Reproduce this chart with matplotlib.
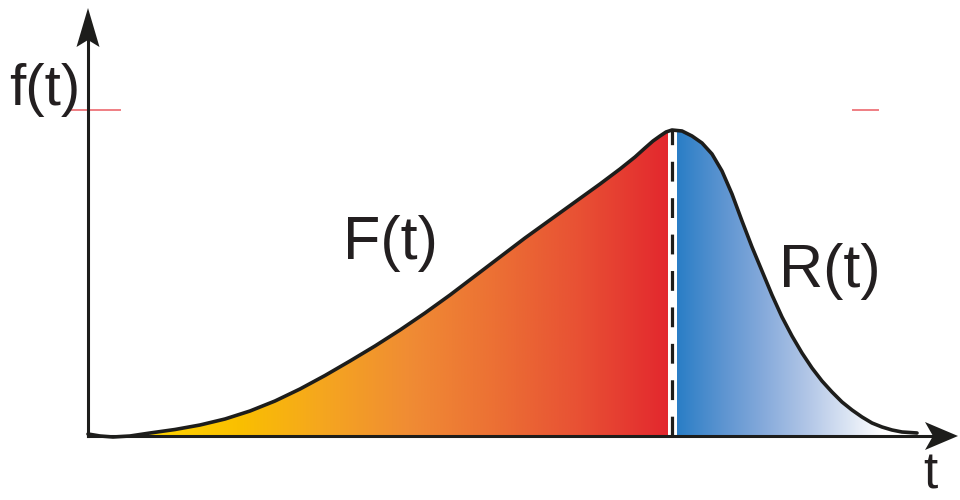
import numpy as np
import matplotlib
matplotlib.use("Agg")
import matplotlib.pyplot as plt
from matplotlib.colors import LinearSegmentedColormap
from matplotlib.patches import Polygon

plt.rcParams['font.family'] = ['Liberation Sans', 'DejaVu Sans']

# curve f(t)
t = np.array([0.00, 0.12, 0.25, 0.42, 0.62, 0.87, 1.12, 1.37, 1.62, 1.87, 2.12,
              2.37, 2.62, 2.87, 3.12, 3.37, 3.62, 3.87, 4.12, 4.37, 4.62, 4.87,
              5.12, 5.32, 5.47, 5.57, 5.65, 5.72, 5.78, 5.84, 5.94, 6.04, 6.14,
              6.24, 6.34, 6.44, 6.54, 6.64, 6.74, 6.84, 6.94, 7.04, 7.14, 7.24,
              7.34, 7.44, 7.54, 7.64, 7.74, 7.84, 7.94, 8.04, 8.14, 8.29])
f = np.array([0.02, 0.00, -0.01, 0.00, 0.03, 0.065, 0.11, 0.17, 0.25, 0.35, 0.47,
              0.605, 0.75, 0.90, 1.06, 1.23, 1.41, 1.60, 1.79, 1.98, 2.16, 2.34,
              2.52, 2.67, 2.79, 2.88, 2.95, 3.00, 3.04, 3.06, 3.05, 3.00, 2.93,
              2.82, 2.65, 2.42, 2.15, 1.89, 1.65, 1.41, 1.19, 1.00, 0.83, 0.68,
              0.55, 0.44, 0.34, 0.26, 0.19, 0.13, 0.09, 0.06, 0.04, 0.03])

t_split = 5.84          # dashed line
F_range = (0.62, 5.80)  # yellow -> red area
R_range = (5.89, 8.29)  # blue -> white area

F_colors = ['#FFD400', '#FAC000', '#F5A61F', '#F08C34', '#EC7034', '#E85034', '#E3282E']
R_colors = [(0.0, '#2A7EC6'), (0.18, '#5A93D0'), (0.36, '#86AADB'),
            (0.55, '#B3C7E7'), (0.72, '#DDE6F4'), (0.86, '#FFFFFF'), (1.0, '#FFFFFF')]

fig = plt.figure(figsize=(9.6, 5), dpi=100)
ax = fig.add_axes([0, 0, 1, 1])
ax.set_xlim(-0.88, 8.72)
ax.set_ylim(-0.64, 4.36)
ax.axis('off')


def grad_fill(t0, t1, colors):
    m = (t >= t0) & (t <= t1)
    xs = np.concatenate([[t0], t[m], [t1]])
    ys = np.concatenate([[np.interp(t0, t, f)], f[m], [np.interp(t1, t, f)]])
    verts = np.column_stack([np.concatenate([xs, [t1, t0]]),
                             np.concatenate([ys, [0, 0]])])
    poly = Polygon(verts, closed=True, fc='none', ec='none')
    ax.add_patch(poly)
    cmap = LinearSegmentedColormap.from_list('g', colors)
    img = ax.imshow(np.linspace(0, 1, 256)[None, :], cmap=cmap, aspect='auto',
                    extent=[t0, t1, 0, f.max() + 0.1], interpolation='bicubic',
                    zorder=1)
    img.set_clip_path(poly)


grad_fill(F_range[0], F_range[1], F_colors)
grad_fill(R_range[0], R_range[1], R_colors)

# dashed divider
ax.plot([t_split, t_split], [0, np.interp(t_split, t, f)], color='#1d1d1b',
        lw=2.3, ls=(0, (6.2, 5.2)), zorder=3)

# curve
ax.plot(t, f, color='#1d1d1b', lw=2.6, solid_capstyle='round',
        solid_joinstyle='round', zorder=4)

# axes with stealth arrowheads
ax.plot([0, 0], [0, 4.0], color='#1d1d1b', lw=2.2, zorder=5)
ax.plot([0, 8.5], [0, 0], color='#1d1d1b', lw=2.2, zorder=5)
ax.add_patch(Polygon([[0, 4.28], [0.115, 3.89], [0, 3.96], [-0.115, 3.89]],
                     closed=True, fc='#1d1d1b', ec='none', zorder=5))
ax.add_patch(Polygon([[8.70, 0], [8.37, 0.14], [8.45, 0], [8.37, -0.14]],
                     closed=True, fc='#1d1d1b', ec='none', zorder=5))

# faint red marks at the top level
ax.plot([-0.16, 0.32], [3.26, 3.26], color='#E8474F', lw=1.4, alpha=0.7, zorder=2)
ax.plot([7.65, 7.90], [3.26, 3.26], color='#E8474F', lw=1.4, alpha=0.7, zorder=2)

txt = '#231f20'
ax.text(-0.43, 3.46, 'f(t)', fontsize=42, ha='center', va='center', color=txt)
ax.text(3.02, 1.92, 'F(t)', fontsize=44, ha='center', va='center', color=txt)
ax.text(7.42, 1.64, 'R(t)', fontsize=44, ha='center', va='center', color=txt)
ax.text(8.42, -0.39, 't', fontsize=37, ha='center', va='center', color=txt)

fig.savefig('out.png', dpi=100, facecolor='white')
